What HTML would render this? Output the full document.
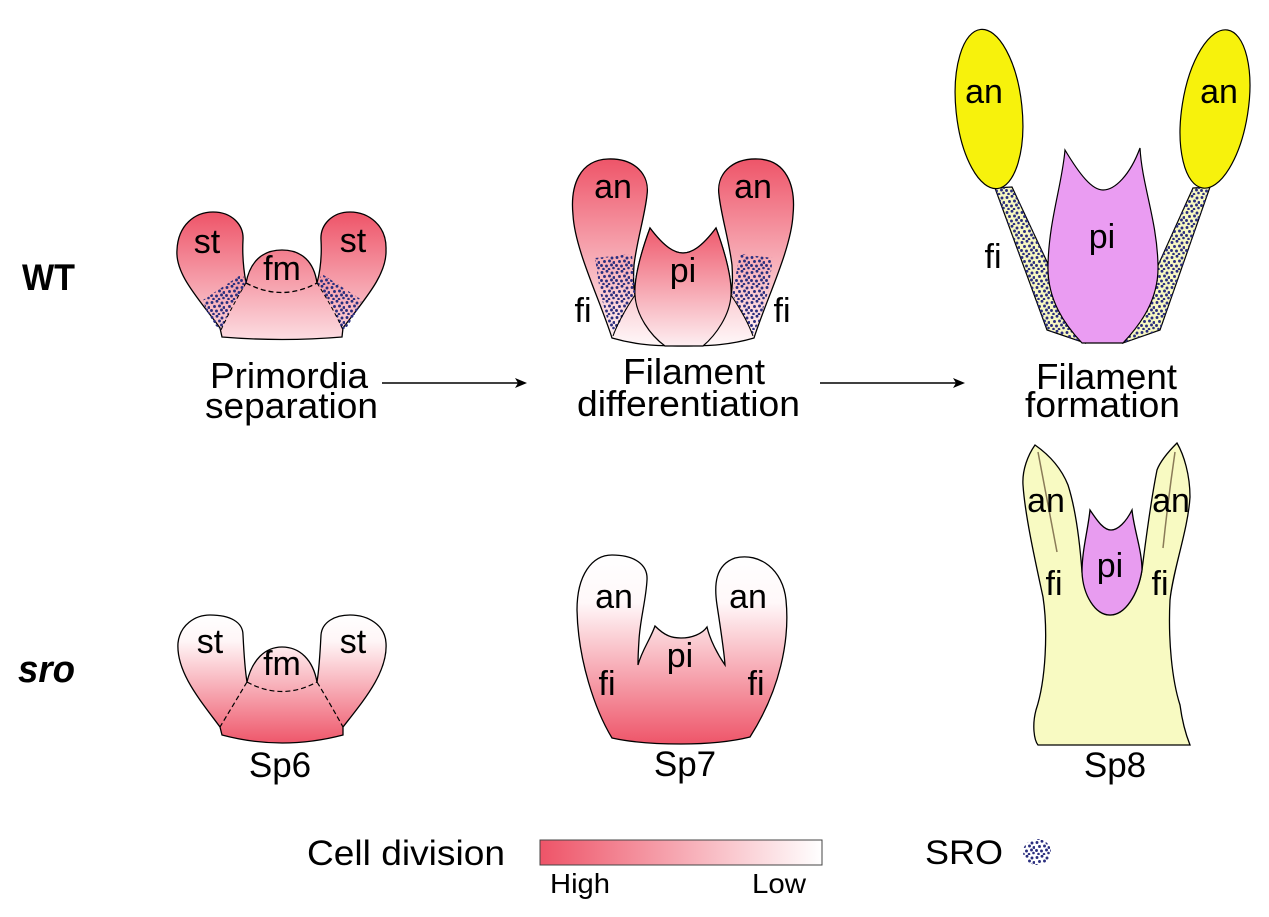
<!DOCTYPE html>
<html>
<head>
<meta charset="utf-8">
<style>
html,body{margin:0;padding:0;background:#fff;}
svg{display:block;}
text{font-family:"Liberation Sans",Arial,sans-serif;fill:#000;}
</style>
</head>
<body>
<svg width="1269" height="917" viewBox="0 0 1269 917" xmlns="http://www.w3.org/2000/svg">
<defs>
  <pattern id="dots" x="0" y="0" width="15" height="15" patternUnits="userSpaceOnUse">
    <g fill="#2a2e7e">
      <circle cx="2" cy="2.5" r="1.45"/><circle cx="7" cy="1.2" r="1.45"/><circle cx="12" cy="3" r="1.45"/>
      <circle cx="4.5" cy="6.5" r="1.45"/><circle cx="9.5" cy="6" r="1.45"/><circle cx="14" cy="7.5" r="1.45"/>
      <circle cx="1.5" cy="10.5" r="1.45"/><circle cx="6.5" cy="11" r="1.45"/><circle cx="11.5" cy="10" r="1.45"/>
      <circle cx="3.5" cy="14" r="1.3"/><circle cx="9" cy="14.2" r="1.3"/><circle cx="13.5" cy="13" r="1.3"/>
    </g>
  </pattern>
  <linearGradient id="gPrim" x1="0" y1="212" x2="0" y2="340" gradientUnits="userSpaceOnUse">
    <stop offset="0" stop-color="#ee5468"/><stop offset="1" stop-color="#fcdde2"/>
  </linearGradient>
  <linearGradient id="gDiff" x1="0" y1="158" x2="0" y2="346" gradientUnits="userSpaceOnUse">
    <stop offset="0" stop-color="#ee5468"/><stop offset="1" stop-color="#fff8f9"/>
  </linearGradient>
  <linearGradient id="gPi" x1="0" y1="228" x2="0" y2="346" gradientUnits="userSpaceOnUse">
    <stop offset="0" stop-color="#ef5a6d"/><stop offset="1" stop-color="#fdeef1"/>
  </linearGradient>
  <linearGradient id="gSp6" x1="0" y1="615" x2="0" y2="745" gradientUnits="userSpaceOnUse">
    <stop offset="0" stop-color="#ffffff"/><stop offset="0.2" stop-color="#fff6f7"/><stop offset="1" stop-color="#ee5468"/>
  </linearGradient>
  <linearGradient id="gSp7" x1="0" y1="555" x2="0" y2="745" gradientUnits="userSpaceOnUse">
    <stop offset="0" stop-color="#ffffff"/><stop offset="0.25" stop-color="#fff8f9"/><stop offset="1" stop-color="#ee5468"/>
  </linearGradient>
  <linearGradient id="gBar" x1="540" y1="0" x2="822" y2="0" gradientUnits="userSpaceOnUse">
    <stop offset="0" stop-color="#ee5468"/><stop offset="1" stop-color="#ffffff"/>
  </linearGradient>
</defs>

<!-- Row labels -->
<text x="22" y="290" font-size="37" font-weight="bold" textLength="53" lengthAdjust="spacingAndGlyphs">WT</text>
<text x="18" y="682" font-size="38" font-weight="bold" font-style="italic" textLength="57" lengthAdjust="spacingAndGlyphs">sro</text>

<!-- ===== WT primordia separation ===== -->
<path d="M220,328 C200,300 175,275 177,250 C178,225 195,212 213,212 C232,212 244,225 243,240 C242,258 244,272 246,283
         C250,262 262,250 282,250 C302,250 314,262 317,283
         C320,272 322,258 321,240 C320,225 332,212 350,212 C368,212 387,225 386,250 C387,275 364,300 343,328
         L342,337 Q282,342 222,337 Z" fill="url(#gPrim)" stroke="#000" stroke-width="1.3"/>
<polygon points="203,300 242,274 247,283 232,306 221,330 216,326 206,310" fill="url(#dots)"/>
<polygon points="322,274 362,300 357,311 347,327 342,330 332,306 317,283" fill="url(#dots)"/>
<path d="M246,283 Q282,302 317,283" fill="none" stroke="#000" stroke-width="1.3" stroke-dasharray="5,3"/>
<path d="M246,283 Q232,306 221,330 M317,283 Q332,306 343,330" fill="none" stroke="#000" stroke-width="1" stroke-dasharray="4,3"/>
<text x="207" y="253" font-size="34" text-anchor="middle">st</text>
<text x="282" y="280" font-size="34" text-anchor="middle">fm</text>
<text x="353" y="252" font-size="34" text-anchor="middle">st</text>

<!-- ===== WT filament differentiation ===== -->
<path d="M612,338 C600,300 575,250 573,215 C570,185 580,160 608,159 C635,158 650,175 647,195 C645,215 637,240 634,265 C633,280 634,290 635,295
         C634,280 640,255 650,228 C665,248 675,253 683,253 C691,253 701,248 716,228 C726,255 732,280 731,295
         C732,290 733,280 732,265 C729,240 721,215 719,195 C716,175 731,158 758,159 C786,160 796,185 793,215 C791,250 766,300 754,338
         C730,345 710,346 683,346 C656,346 636,345 612,338 Z" fill="url(#gDiff)" stroke="#000" stroke-width="1.3"/>
<path d="M650,228 C665,248 675,253 683,253 C691,253 701,248 716,228 C726,255 732,280 731,295 C730,315 716,335 703,346 L665,346 C650,335 636,315 635,295 C634,280 640,255 650,228 Z"
      fill="url(#gPi)" stroke="#000" stroke-width="1.2"/>
<polygon points="595,258 632,254 635,293 626,310 614,334 608,322 600,292" fill="url(#dots)"/>
<polygon points="740,254 773,258 768,292 760,320 753,334 742,312 732,294" fill="url(#dots)"/>
<path d="M635,295 C625,310 618,322 613,336 M731,295 C741,310 748,322 753,336" fill="none" stroke="#000" stroke-width="1.1"/>
<text x="613" y="198" font-size="34" text-anchor="middle">an</text>
<text x="753" y="198" font-size="34" text-anchor="middle">an</text>
<text x="683" y="282" font-size="34" text-anchor="middle">pi</text>
<text x="583" y="322" font-size="34" text-anchor="middle">fi</text>
<text x="782" y="322" font-size="34" text-anchor="middle">fi</text>

<!-- ===== WT filament formation ===== -->
<polygon points="995,188 1012,187 1085,343 1047,330" fill="#f7f7c2" stroke="#000" stroke-width="1.2"/>
<polygon points="995,188 1012,187 1085,343 1047,330" fill="url(#dots)"/>
<polygon points="1193,188 1210,187 1160,330 1123,343" fill="#f7f7c2" stroke="#000" stroke-width="1.2"/>
<polygon points="1193,188 1210,187 1160,330 1123,343" fill="url(#dots)"/>
<ellipse cx="989" cy="109" rx="33" ry="80" transform="rotate(-6 989 109)" fill="#f7f20c" stroke="#000" stroke-width="1.2"/>
<ellipse cx="1215" cy="109" rx="33" ry="80" transform="rotate(9 1215 109)" fill="#f7f20c" stroke="#000" stroke-width="1.2"/>
<path d="M1065,150 C1080,175 1092,190 1103,190 C1115,190 1130,175 1140,148 C1142,185 1157,220 1158,265 C1159,300 1140,325 1123,343 L1082,343 C1065,325 1047,300 1048,265 C1049,220 1062,185 1065,150 Z"
      fill="#ea9cf2" stroke="#000" stroke-width="1.2"/>
<text x="984" y="103" font-size="34" text-anchor="middle">an</text>
<text x="1219" y="103" font-size="34" text-anchor="middle">an</text>
<text x="1102" y="248" font-size="34" text-anchor="middle">pi</text>
<text x="993" y="268" font-size="34" text-anchor="middle">fi</text>

<!-- Stage labels and arrows -->
<text x="210" y="388" font-size="36" textLength="158" lengthAdjust="spacingAndGlyphs">Primordia</text>
<text x="205" y="418" font-size="36" textLength="173" lengthAdjust="spacingAndGlyphs">separation</text>
<text x="623" y="384" font-size="36" textLength="142" lengthAdjust="spacingAndGlyphs">Filament</text>
<text x="577" y="416" font-size="36" textLength="223" lengthAdjust="spacingAndGlyphs">differentiation</text>
<text x="1036" y="389" font-size="36" textLength="141" lengthAdjust="spacingAndGlyphs">Filament</text>
<text x="1025" y="417" font-size="36" textLength="155" lengthAdjust="spacingAndGlyphs">formation</text>

<line x1="382" y1="383" x2="520" y2="383" stroke="#000" stroke-width="1.6"/>
<path d="M515,378 L527,383 L515,388 L518,383 Z" fill="#000"/>
<line x1="820" y1="383" x2="958" y2="383" stroke="#000" stroke-width="1.6"/>
<path d="M953,378 L965,383 L953,388 L956,383 Z" fill="#000"/>

<!-- ===== sro Sp6 ===== -->
<path d="M220,727 C200,700 176,672 178,643 C180,625 195,615 210,615 C230,615 243,622 243,635 C244,655 245,670 247,682
         C252,660 265,647 282,647 C300,647 313,660 317,682
         C319,670 320,655 321,635 C322,622 335,615 350,615 C368,615 385,625 386,643 C388,672 364,700 343,727
         L343,735 Q282,751 222,735 Z" fill="url(#gSp6)" stroke="#000" stroke-width="1.3"/>
<path d="M247,682 Q282,701 317,682 M247,682 Q232,707 220,727 M317,682 Q332,707 343,727" fill="none" stroke="#000" stroke-width="1.2" stroke-dasharray="5,3"/>
<text x="210" y="653" font-size="34" text-anchor="middle">st</text>
<text x="282" y="675" font-size="34" text-anchor="middle">fm</text>
<text x="353" y="653" font-size="34" text-anchor="middle">st</text>
<text x="280" y="777" font-size="35" text-anchor="middle">Sp6</text>

<!-- ===== sro Sp7 ===== -->
<path d="M612,738 C595,710 578,660 577,610 C577,575 592,555 612,555 C635,555 648,565 647,580 C646,600 640,620 639,640 C638,655 638,662 638,665
         C642,650 650,640 655,626 C665,636 672,638 681,638 C692,638 702,634 707,627 C710,640 718,655 725,665
         C724,650 720,625 717,605 C714,585 715,565 735,558 C760,552 783,570 786,600 C790,640 780,690 750,737
         C730,742 705,744 681,744 C655,744 630,742 612,738 Z" fill="url(#gSp7)" stroke="#000" stroke-width="1.3"/>
<text x="614" y="608" font-size="34" text-anchor="middle">an</text>
<text x="748" y="608" font-size="34" text-anchor="middle">an</text>
<text x="680" y="667" font-size="34" text-anchor="middle">pi</text>
<text x="607" y="695" font-size="34" text-anchor="middle">fi</text>
<text x="756" y="695" font-size="34" text-anchor="middle">fi</text>
<text x="685" y="776" font-size="35" text-anchor="middle">Sp7</text>

<!-- ===== sro Sp8 ===== -->
<path d="M1035,445 C1028,455 1022,470 1023,485 C1025,515 1035,560 1043,597 C1048,630 1046,680 1036,710 C1032,725 1034,740 1038,745
         L1190,745 C1186,735 1182,720 1180,705 C1172,680 1168,640 1170,600 C1173,570 1188,530 1190,497 C1190,475 1184,455 1177,443
         C1168,452 1160,462 1157,470 C1152,495 1147,530 1142,570
         C1138,595 1125,615 1110,615 C1095,615 1085,595 1082,572
         C1080,545 1076,510 1068,485 C1060,465 1045,452 1035,445 Z" fill="#f8fac2" stroke="#000" stroke-width="1.3"/>
<path d="M1090,510 C1098,522 1104,530 1111,530 C1118,530 1126,522 1132,510 C1134,530 1142,550 1142,570 C1138,595 1125,615 1110,615 C1095,615 1083,595 1082,572 C1082,550 1088,530 1090,510 Z"
      fill="#e89cf0" stroke="#000" stroke-width="1.3"/>
<path d="M1038,452 Q1047,500 1057,552 M1175,452 Q1168,500 1163,548" fill="none" stroke="#8a7b58" stroke-width="1.5"/>
<text x="1046" y="512" font-size="34" text-anchor="middle">an</text>
<text x="1171" y="512" font-size="34" text-anchor="middle">an</text>
<text x="1110" y="577" font-size="34" text-anchor="middle">pi</text>
<text x="1054" y="595" font-size="34" text-anchor="middle">fi</text>
<text x="1160" y="595" font-size="34" text-anchor="middle">fi</text>
<text x="1115" y="777" font-size="35" text-anchor="middle">Sp8</text>

<!-- ===== Legend ===== -->
<text x="307" y="865" font-size="35" textLength="198" lengthAdjust="spacingAndGlyphs">Cell division</text>
<rect x="540" y="840" width="282" height="25" fill="url(#gBar)" stroke="#444" stroke-width="1"/>
<text x="550" y="893" font-size="28" textLength="60" lengthAdjust="spacingAndGlyphs">High</text>
<text x="752" y="893" font-size="28" textLength="54" lengthAdjust="spacingAndGlyphs">Low</text>
<text x="925" y="864" font-size="34" textLength="78" lengthAdjust="spacingAndGlyphs">SRO</text>
<ellipse cx="1037" cy="852" rx="14" ry="13" fill="url(#dots)"/>
</svg>
</body>
</html>
